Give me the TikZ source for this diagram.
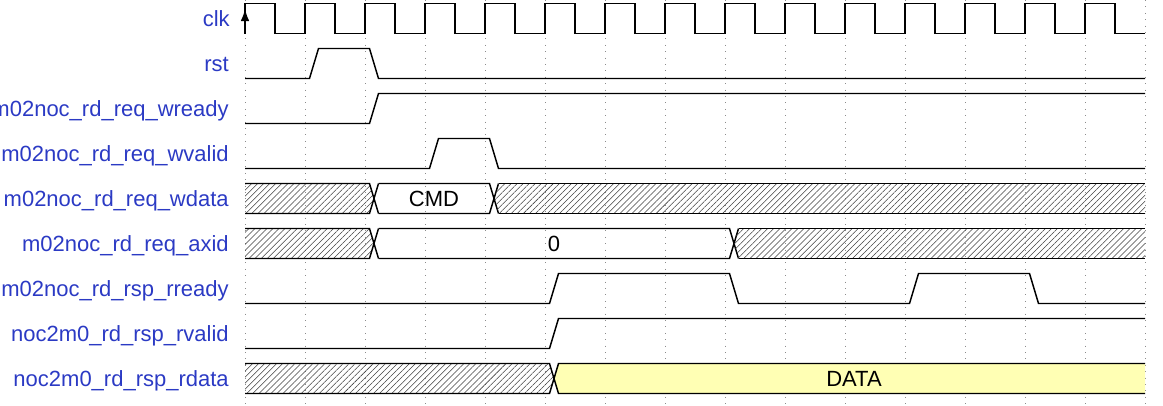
\documentclass[tikz,border=0pt]{standalone}
\usepackage{fontspec}
\setmainfont{Liberation Sans}
\usepackage{tikz}
\usetikzlibrary{arrows.meta,patterns.meta}
\definecolor{WD_Label}{HTML}{2B3AC4}
\definecolor{WD_Data}{HTML}{FFFFB4}
\definecolor{WD_Grid}{HTML}{8C8C8C}

\begin{document}
\begin{tikzpicture}[x=0.75pt, y=-0.75pt, >=Stealth,
    wave/.style={line width=1.1pt, line join=miter},
    sig/.style={anchor=base east, text=WD_Label, inner sep=0pt, font=\fontsize{16.5}{19}\selectfont},
    val/.style={anchor=base, inner sep=0pt, font=\fontsize{16.5}{19}\selectfont},
    hatch/.style={pattern={Lines[angle=45,distance=3.2pt,line width=0.4pt]}, pattern color=black!75},
    gridline/.style={WD_Grid, line width=0.5pt, dash pattern=on 0.8pt off 4pt}]
    \useasboundingbox (0,0) rectangle (1163,405);

    % Grid (one line per clock period)
    \foreach \k in {0,...,15}
        \draw[gridline] (245+60*\k,0) -- (245+60*\k,405);

    % Signal names
    \node[sig] (clk)    at (230,26.7)  {clk};
    \node[sig] (rst)    at (229,71.7)  {rst};
    \node[sig] (wready) at (229,116.7) {m02noc\_rd\_req\_wready};
    \node[sig] (wvalid) at (229,161.7) {m02noc\_rd\_req\_wvalid};
    \node[sig] (wdata)  at (229,206.7) {m02noc\_rd\_req\_wdata};
    \node[sig] (axid)   at (229,251.7) {m02noc\_rd\_req\_axid};
    \node[sig] (rready) at (229,296.7) {m02noc\_rd\_rsp\_rready};
    \node[sig] (rvalid) at (229,341.7) {noc2m0\_rd\_rsp\_rvalid};
    \node[sig] (rdata)  at (229,386.7) {noc2m0\_rd\_rsp\_rdata};

    % clk
    \draw[wave] (245,33.5) -- (245,3.5)
        \foreach \k in {0,...,14} {
            -- (275+60*\k,3.5) -- (275+60*\k,33.5) -- (305+60*\k,33.5)
            \ifnum\k<14 -- (305+60*\k,3.5)\fi };
    \draw[wave, -{Latex[length=9pt,width=6.5pt]}] (245,33.5) -- (245,9);

    % rst
    \draw[wave] (245,78.5) -- (309.5,78.5) -- (318.5,48.5) -- (369.5,48.5)
        -- (378.5,78.5) -- (1145,78.5);

    % wready
    \draw[wave] (245,123.5) -- (369.5,123.5) -- (378.5,93.5) -- (1145,93.5);

    % wvalid
    \draw[wave] (245,168.5) -- (429.5,168.5) -- (438.5,138.5) -- (489.5,138.5)
        -- (498.5,168.5) -- (1145,168.5);

    % wdata: x | CMD | x
    \fill[hatch] (245,183.5) -- (369.5,183.5) -- (374,198.5) -- (369.5,213.5) -- (245,213.5) -- cycle;
    \draw[wave] (245,183.5) -- (369.5,183.5) -- (378.5,213.5);
    \draw[wave] (245,213.5) -- (369.5,213.5) -- (378.5,183.5);
    \draw[wave] (378.5,183.5) -- (489.5,183.5) -- (498.5,213.5);
    \draw[wave] (378.5,213.5) -- (489.5,213.5) -- (498.5,183.5);
    \fill[hatch] (1145,183.5) -- (498.5,183.5) -- (494,198.5) -- (498.5,213.5) -- (1145,213.5) -- cycle;
    \draw[wave] (498.5,183.5) -- (1145,183.5);
    \draw[wave] (498.5,213.5) -- (1145,213.5);
    \node[val] (cmd) at (434,206.7) {CMD};

    % axid: x | 0 | x
    \fill[hatch] (245,228.5) -- (369.5,228.5) -- (374,243.5) -- (369.5,258.5) -- (245,258.5) -- cycle;
    \draw[wave] (245,228.5) -- (369.5,228.5) -- (378.5,258.5);
    \draw[wave] (245,258.5) -- (369.5,258.5) -- (378.5,228.5);
    \draw[wave] (378.5,228.5) -- (729.5,228.5) -- (738.5,258.5);
    \draw[wave] (378.5,258.5) -- (729.5,258.5) -- (738.5,228.5);
    \fill[hatch] (1145,228.5) -- (738.5,228.5) -- (734,243.5) -- (738.5,258.5) -- (1145,258.5) -- cycle;
    \draw[wave] (738.5,228.5) -- (1145,228.5);
    \draw[wave] (738.5,258.5) -- (1145,258.5);
    \node[val] (axidval) at (554,251.7) {0};

    % rready
    \draw[wave] (245,303.5) -- (549.5,303.5) -- (558.5,273.5) -- (729.5,273.5)
        -- (738.5,303.5) -- (909.5,303.5) -- (918.5,273.5) -- (1029.5,273.5)
        -- (1038.5,303.5) -- (1145,303.5);

    % rvalid
    \draw[wave] (245,348.5) -- (549.5,348.5) -- (558.5,318.5) -- (1145,318.5);

    % rdata: x | DATA
    \fill[hatch] (245,363.5) -- (549.5,363.5) -- (554,378.5) -- (549.5,393.5) -- (245,393.5) -- cycle;
    \fill[WD_Data] (1145,363.5) -- (558.5,363.5) -- (554,378.5) -- (558.5,393.5) -- (1145,393.5) -- cycle;
    \draw[wave] (245,363.5) -- (549.5,363.5) -- (558.5,393.5) -- (1145,393.5);
    \draw[wave] (245,393.5) -- (549.5,393.5) -- (558.5,363.5) -- (1145,363.5);
    \node[val] (data) at (854,386.7) {DATA};

\end{tikzpicture}
\end{document}
